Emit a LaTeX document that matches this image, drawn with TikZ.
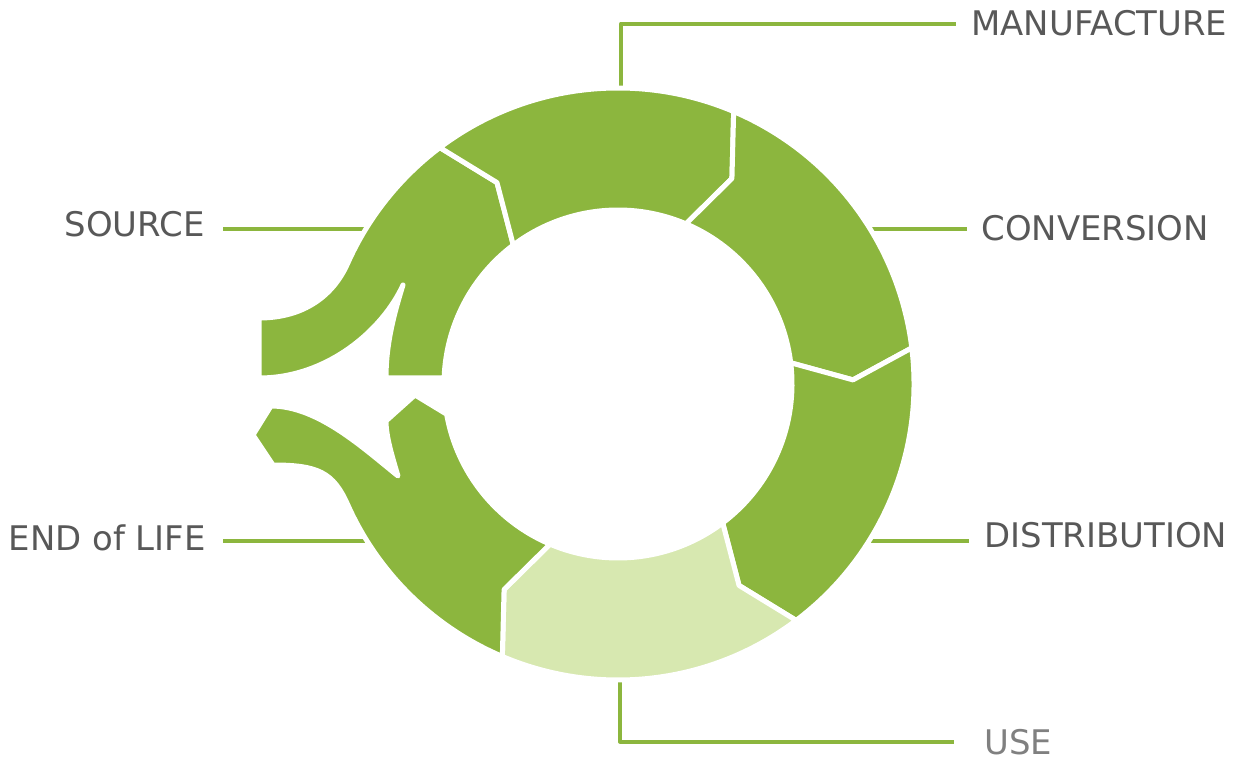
\documentclass[tikz,border=0pt]{standalone}
\usepackage{fontspec}
\setmainfont{DejaVu Sans}
\usepackage{tikz}
\usetikzlibrary{calc}
\definecolor{leaf}{HTML}{8CB63E}
\definecolor{leaflight}{HTML}{D7E8B0}
\definecolor{labelgray}{HTML}{585858}
\definecolor{usegray}{HTML}{808080}

\begin{document}
\begin{tikzpicture}[x=0.02cm, y=0.02cm,
    seg/.style={draw=white, line width=0.1cm, line join=round},
    link/.style={draw=leaf, line width=0.08cm, line join=round},
    stage/.style={inner sep=0pt, text=labelgray, font=\fontsize{19.3}{23}\selectfont}]
    \useasboundingbox (0,0) rectangle (1240,761);

    % Labels
    \node[stage, anchor=base east] (src) at (205,524) {SOURCE};
    \node[stage, anchor=base west] (man) at (971,725) {MANUFACTURE};
    \node[stage, anchor=base west] (con) at (981,520) {CONVERSION};
    \node[stage, anchor=base west] (dis) at (984,214) {DISTRIBUTION};
    \node[stage, anchor=base west, text=usegray] (use) at (984,7) {USE};
    \node[stage, anchor=base east] (eol) at (206,211) {END of LIFE};

    % Leader lines
    \coordinate (c-src) at (375,532);
    \coordinate (c-man) at (621,666);
    \coordinate (c-con) at (860,532);
    \coordinate (c-dis) at (860,220);
    \coordinate (c-use) at (620,96);
    \coordinate (c-eol) at (375,220);
    \draw[link, shorten >=0.36cm] (c-src) -- (c-src -| src.east);
    \draw[link, shorten >=0.3cm] (c-man) |- (man.west);
    \draw[link, shorten >=0.28cm] (c-con) -- (c-con -| con.west);
    \draw[link, shorten >=0.3cm] (c-dis) -- (c-dis -| dis.west);
    \draw[link, shorten >=0.6cm] (c-use) |- (use.west);
    \draw[link, shorten >=0.34cm] (c-eol) -- (c-eol -| eol.east);

    % Ring
    \begin{scope}[shift={(618,377)}]
        % Source
        \fill[leaf, seg] (127:174) -- (121:235) -- (127:296)
            arc[start angle=127, end angle=156, radius=296]
            .. controls (-284.6,88.4) and (-314,66) .. (-359,66)
            -- (-359,6)
            .. controls (-290,6) and (-235,55) .. (-215,99)
            .. controls (-224,70) and (-232,40) .. (-232,6)
            -- (178:174)
            arc[start angle=178, end angle=127, radius=174] -- cycle;

        % Manufacture
        \fill[leaf, seg] (127:174) -- (121:235) -- (127:296)
            arc[start angle=127, end angle=67, radius=296]
            -- (61:235) -- (67:174)
            arc[start angle=67, end angle=127, radius=174] -- cycle;

        % Conversion
        \fill[leaf, seg] (67:174) -- (61:235) -- (67:296)
            arc[start angle=67, end angle=7, radius=296]
            -- (1:235) -- (7:174)
            arc[start angle=7, end angle=67, radius=174] -- cycle;

        % Distribution
        \fill[leaf, seg] (7:174) -- (1:235) -- (7:296)
            arc[start angle=7, end angle=-53, radius=296]
            -- (-59:235) -- (-53:174)
            arc[start angle=-53, end angle=7, radius=174] -- cycle;

        % Use
        \fill[leaflight, seg] (-53:174) -- (-59:235) -- (-53:296)
            arc[start angle=-53, end angle=-113, radius=296]
            -- (-119:235) -- (-113:174)
            arc[start angle=-113, end angle=-53, radius=174] -- cycle;

        % End of life
        \fill[leaf, seg] (-113:174) -- (-119:235) -- (-113:296)
            arc[start angle=-113, end angle=-156, radius=296]
            .. controls (-284.6,-88.4) and (-300,-81) .. (-345,-81)
            -- (-365,-51) -- (-347,-22)
            .. controls (-300,-22) and (-255,-64) .. (-220,-92)
            .. controls (-226,-72) and (-232,-52) .. (-232,-37)
            -- (-203,-11) -- (-170:174)
            arc[start angle=-170, end angle=-113, radius=174] -- cycle;
    \end{scope}
\end{tikzpicture}
\end{document}
